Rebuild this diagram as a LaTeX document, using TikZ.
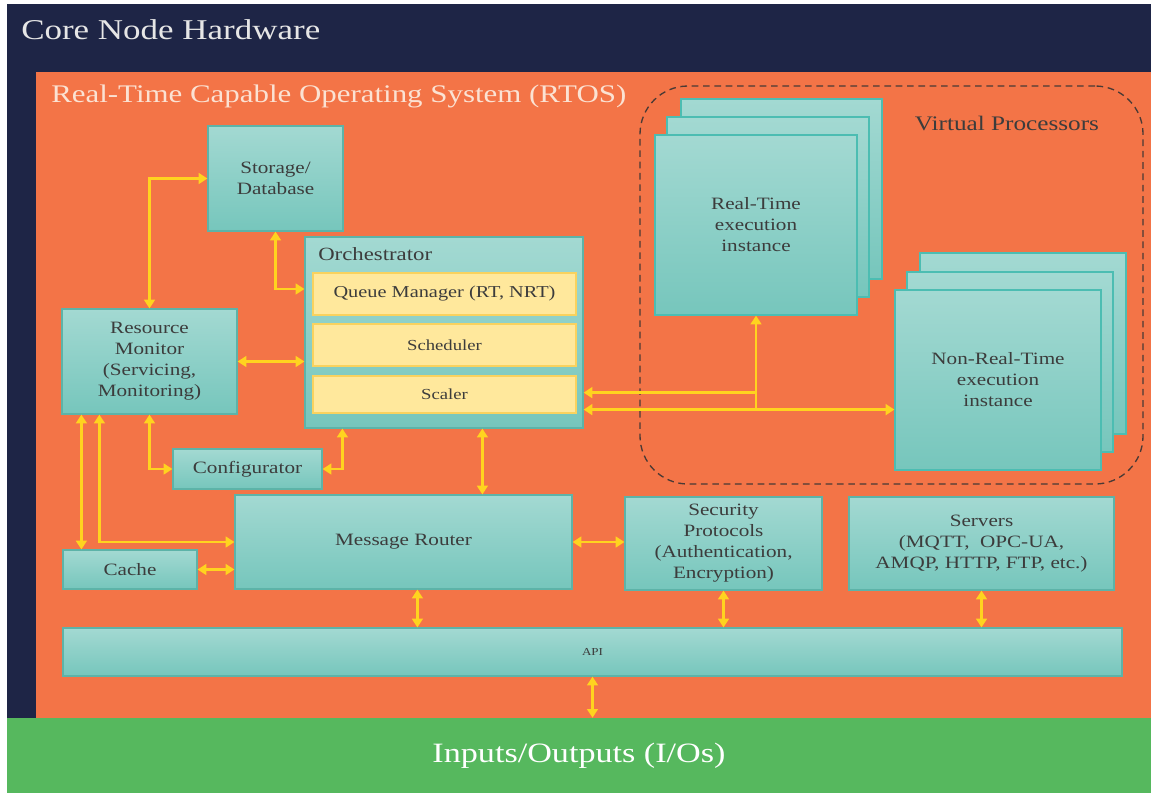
\documentclass[tikz,border=0pt]{standalone}
\usepackage{fontspec}
\setmainfont{Liberation Serif}[FakeStretch=1.22]
\usetikzlibrary{arrows.meta,calc}
\definecolor{navy}{HTML}{1E2546}
\definecolor{rtosc}{HTML}{F37447}
\definecolor{iogreen}{HTML}{56B85E}
\definecolor{tealtop}{HTML}{A3D9D2}
\definecolor{tealbot}{HTML}{76C6BC}
\definecolor{tealline}{HTML}{5DB3A8}
\definecolor{stackline}{HTML}{4CBDB2}
\definecolor{yfill}{HTML}{FFE89C}
\definecolor{yline}{HTML}{F9D25E}
\definecolor{arrowc}{HTML}{FFD31F}
\definecolor{boxtext}{HTML}{3C3C3C}
\definecolor{peach}{HTML}{FBE2D3}
\definecolor{titlec}{HTML}{E6E6E6}
\definecolor{dashc}{HTML}{4A3A35}
\tikzset{
 sz/.style 2 args={minimum width=#1*0.75pt, minimum height=#2*0.75pt},
 tbox/.style={rectangle, inner sep=0pt, draw=tealline, line width=0.9pt, top color=tealtop, bottom color=tealbot, text=boxtext, align=center, font=\fontsize{13}{15.75}\selectfont},
 stackbox/.style={tbox, draw=stackline},
 ybox/.style={rectangle, inner sep=0pt, draw=yline, line width=1pt, fill=yfill, text=boxtext, align=center},
 band/.style={rectangle, inner sep=0pt, draw=none},
 lbl/.style={inner sep=0pt},
 conn/.style={draw=arrowc, line width=2.2pt},
 bi/.style={conn, {Triangle[length=6.5pt,width=8pt]}-{Triangle[length=6.5pt,width=8pt]}},
 uni/.style={conn, -{Triangle[length=6.5pt,width=8pt]}},
}
\begin{document}
\begin{tikzpicture}[x=0.75pt,y=-0.75pt]
\useasboundingbox (0,0) rectangle (1151,793);
\fill[white] (0,0) rectangle (1151,793);
\node[band, fill=navy, sz={1144}{716}] (hw) at (579,362) {};
\node[band, fill=rtosc, sz={1115}{646}] (os) at (593.5,395) {};
\node[band, fill=iogreen, sz={1144}{75}, text=white, font=\fontsize{21}{24}\selectfont] (io) at (579,755.5) {Inputs/Outputs (I/Os)};
\node[lbl, anchor=west, text=titlec, font=\fontsize{21.5}{25}\selectfont] (hwt) at (21,30) {Core Node Hardware};
\node[lbl, anchor=west, text=peach, font=\fontsize{19}{22}\selectfont] (ost) at (51,96) {Real-Time Capable Operating System (RTOS)};

% virtual processors
\node[rectangle, draw=dashc, dashed, dash pattern=on 5pt off 3.5pt, line width=1pt, rounded corners=36pt, inner sep=0pt, sz={503}{398}] (vp) at (891.5,285) {};
\node[lbl, text=boxtext, font=\fontsize{15.5}{18}\selectfont] (vpt) at (1007,123) {Virtual Processors};
\node[stackbox, sz={201}{180}] (rt3) at (781.5,189) {};
\node[stackbox, sz={202}{180}] (rt2) at (768,207) {};
\node[stackbox, sz={202}{180}] (rt1) at (756,225) {Real-Time\\execution\\instance};
\node[stackbox, sz={206}{181}] (nrt3) at (1023,343.5) {};
\node[stackbox, sz={206}{180}] (nrt2) at (1010,362) {};
\node[stackbox, sz={206}{180}] (nrt1) at (998,380) {Non-Real-Time\\execution\\instance};

% boxes
\node[tbox, sz={135}{105}] (stor) at (275.5,178.5) {Storage/\\Database};
\node[tbox, sz={278}{191}] (orch) at (444,332.5) {};
\node[lbl, anchor=west, text=boxtext, font=\fontsize{14}{17}\selectfont] (orcht) at (318,254) {Orchestrator};
\node[ybox, sz={263}{42}, font=\fontsize{12.5}{15}\selectfont] (qm) at (444.5,294) {Queue Manager (RT, NRT)};
\node[ybox, sz={263}{42}, font=\fontsize{11.5}{14}\selectfont] (sch) at (444.5,345) {Scheduler};
\node[ybox, sz={263}{37}, font=\fontsize{11.5}{14}\selectfont] (scl) at (444.5,394.5) {Scaler};
\node[tbox, sz={175}{105}] (rm) at (149.5,361.5) {Resource\\Monitor\\(Servicing,\\Monitoring)};
\node[tbox, sz={149}{40}] (conf) at (247.5,469) {Configurator};
\node[tbox, sz={134}{39}] (cache) at (130,569.5) {Cache};
\node[tbox, sz={337}{94}] (mr) at (403.5,542) {Message Router};
\node[tbox, sz={197}{93}] (sec) at (723.5,543.5) {Security\\Protocols\\(Authentication,\\Encryption)};
\node[tbox, sz={265}{93}] (srv) at (981.5,543.5) {Servers\\(MQTT,\ \ OPC-UA,\\AMQP, HTTP, FTP, etc.)};
\node[tbox, sz={1059}{48}, font=\fontsize{8}{10}\selectfont] (api) at (592.5,652) {API};

% helper coordinates
\coordinate (o1) at ($(orch.south west)+(178,0)$);
\coordinate (o2) at ($(orch.south west)+(38,0)$);
\coordinate (q1) at ($(orch.west|-qm.west)+(0,-5)$);
\coordinate (r1) at ($(rm.south west)+(20,0)$);
\coordinate (r2) at ($(rm.south west)+(38,0)$);
\coordinate (m1) at ($(mr.south west)+(183,0)$);
\coordinate (ja) at ($(rt1.south)+(0,77)$);
\coordinate (jb) at ($(rt1.south)+(0,94)$);

% connectors
\draw[bi] (stor.west) -| (rm.north);
\draw[bi] (stor.south) |- (q1);
\draw[bi] (rm.east) -- (rm.east -| orch.west);
\draw[bi] (rm.south) |- (conf.west);
\draw[bi] (conf.east) -| (o2);
\draw[bi] (o1) -- (o1 |- mr.north);
\draw[bi] (r1) -- (r1 |- cache.north);
\draw[bi] (r2) |- (mr.west);
\draw[bi] (cache.east) -- (cache.east -| mr.west);
\draw[bi] (mr.east) -- (mr.east -| sec.west);
\draw[bi] (m1) -- (m1 |- api.north);
\draw[bi] (sec.south) -- (sec.south |- api.north);
\draw[bi] (srv.south) -- (srv.south |- api.north);
\draw[bi] (api.south) -- (api.south |- io.north);
\draw[uni] (ja) -- (ja -| orch.east);
\draw[bi] (jb -| orch.east) -- (jb -| nrt1.west);
\draw[uni] (jb) -- (rt1.south);
\end{tikzpicture}
\end{document}
